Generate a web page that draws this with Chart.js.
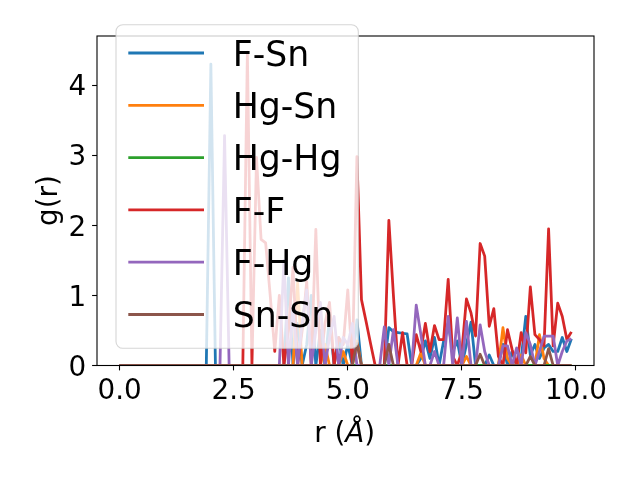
<!DOCTYPE html>
<html>
<head>
<meta charset="utf-8">
<script src="https://cdn.jsdelivr.net/npm/chart.js@4/dist/chart.umd.min.js"></script>
<style>
  html, body { margin: 0; padding: 0; background: #fff; }
  canvas { display: block; }
</style>
</head>
<body>
<canvas id="c" width="640" height="480"></canvas>
<script>
// ---- data ----
const rValues = [
  0.0,0.1,0.2,0.3,0.4,0.5,0.6,0.7,0.8,0.9,
  1.0,1.1,1.2,1.3,1.4,1.5,1.6,1.7,1.8,1.9,
  2.0,2.1,2.2,2.3,2.4,2.5,2.6,2.7,2.8,2.9,
  3.0,3.1,3.2,3.3,3.4,3.5,3.6,3.7,3.8,3.9,
  4.0,4.1,4.2,4.3,4.4,4.5,4.6,4.7,4.8,4.9,
  5.0,5.1,5.2,5.3,5.4,5.5,5.6,5.7,5.8,5.9,
  6.0,6.1,6.2,6.3,6.4,6.5,6.6,6.7,6.8,6.9,
  7.0,7.1,7.2,7.3,7.4,7.5,7.6,7.7,7.8,7.9,
  8.0,8.1,8.2,8.3,8.4,8.5,8.6,8.7,8.8,8.9,
  9.0,9.1,9.2,9.3,9.4,9.5,9.6,9.7,9.8,9.9
];
const seriesLabels = ['F-Sn','Hg-Sn','Hg-Hg','F-F','F-Hg','Sn-Sn'];
const seriesColors = ['#1f77b4','#ff7f0e','#2ca02c','#d62728','#9467bd','#8c564b'];

const gFSn = [
  0,0,0,0,0,0,0,0,0,0,
  0,0,0,0,0,0,0,0,0,0,
  4.3,0,0,0,0,0,0,0,0,0,
  0,0,0,0,0,0,0,1.25,0,0.6,
  0,0.3,1.0,0,0.5,0,0.7,0,0.4,0,
  0.3,0,0.65,0,0,0,0,0,0,0.54,
  0.48,0.47,0.46,0.45,0,0,0.1,0.35,0.1,0.4,
  0,0.35,0.6,0.2,0.35,0,0.3,0.62,0,0,
  0,0.15,0,0,0.3,0,0.2,0,0.1,0.7,
  0.15,0.3,0.1,0.25,0.3,0.2,0.2,0.4,0.2,0.38
];
const gHgSn = [
  0,0,0,0,0,0,0,0,0,0,
  0,0,0,0,0,0,0,0,0,0,
  0,0,0,0,0,0,0,0,0,0,
  0,0,0,0,0,0,0,0,0,1.18,
  0,0,0,0,0,0.3,0,0,0,0.2,
  0,0,0.35,0,0,0,0,0,0,0,
  0,0,0,0,0,0,0.18,0,0,0,
  0,0,0,0,0,0,0.13,0,0,0,
  0,0,0,0,0.54,0.1,0,0,0.15,0,
  0,0,0.44,0.1,0,0,0,0,0,0
];
const gHgHg = [
  0,0,0,0,0,0,0,0,0,0,
  0,0,0,0,0,0,0,0,0,0,
  0,0,0,0,0,0,0,0,0,0,
  0,0,0,0,0,0,0,0,0,0,
  0,0,0,0,0,0,0,0,0,0,
  0,0,0,0,0,0,0,0,0,0,
  0,0,0,0,0,0,0,0,0,0,
  0,0,0,0,0,0,0,0,0,0,
  0,0,0,0,0,0,0,0,0,0,
  0,0,0,0,0,0,0,0,0,0
];
const gFF = [
  0,0,0,0,0,0,0,0,0,0,
  0,0,0,0,0,0,0,0,0,0,
  0,0,0,0,0,0,0,0,4.47,0,
  2.97,1.8,1.75,1.0,0.2,1.0,0,0.5,1.4,0,
  0.5,1.2,0,1.94,0,0.6,0.9,0,0.4,0.3,
  1.08,0,2.98,0.94,0.63,0.31,0,0,0,2.07,
  1.0,0,0.47,0,0,0.44,0.2,0.6,0.2,0.57,
  0.37,0.37,1.23,0.13,0,0.2,0.95,0.75,0.42,1.74,
  1.56,0.56,0.81,0.13,0,0.51,0.23,0,0.47,0.18,
  1.12,0.44,0.37,0.28,1.95,0.28,0.89,0.7,0.37,0.48
];
const gFHg = [
  0,0,0,0,0,0,0,0,0,0,
  0,0,0,0,0,0,0,0,0,0,
  0,0,0,3.28,0,0,0,0,0,0,
  0,0,0,0,0,0,1.5,0,0.8,0,
  0.6,1.08,0,0.5,0.9,0,0.4,0.7,0,0.4,
  0.3,0.6,0,0,0,0,0,0,0.55,0,
  0.51,0,0,0,0,0.86,0.45,0,0,0.2,
  0,0,0.7,0,0.68,0,0.63,0,0,0.58,
  0.2,0,0,0,0.28,0.28,0,0.25,0,0.47,
  0.3,0,0.2,0.42,0.42,0.42,0,0.2,0.35,0.38
];
const gSnSn = [
  0,0,0,0,0,0,0,0,0,0,
  0,0,0,0,0,0,0,0,0,0,
  0,0,0,0,0,0,0,0,0,0,
  0,0,0,0,0,0,0,0,0,0,
  0,0,0,0,0,0,0,0,0,0,
  0,0,0.32,0,0,0,0,0,0,0.3,
  0,0,0,0,0,0,0,0,0,0,
  0,0,0,0,0,0,0,0,0,0.16,
  0,0,0,0,0,0,0,0,0,0,
  0.13,0,0,0,0.24,0,0,0,0,0
];
const seriesValues = [gFSn, gHgSn, gHgHg, gFF, gFHg, gSnSn];
const xTickValues = [0, 2.5, 5.0, 7.5, 10.0];
const yTickValues = [0, 1, 2, 3, 4];

// ---- chart ----
const FONT = 'DejaVu Sans';
const tickFont = { family: FONT, size: 27.8 };

const overlayPlugin = {
  id: 'overlay',
  afterDatasetsDraw(chart) {
    const { ctx, chartArea: a } = chart;
    ctx.save();
    // spines
    ctx.strokeStyle = '#000';
    ctx.lineWidth = 1.1;
    ctx.strokeRect(a.left, a.top, a.right - a.left, a.bottom - a.top);

    // legend frame
    const bx = 116, by = 24.7, bw = 242.3, bh = 323.6, rad = 6.9;
    ctx.beginPath();
    ctx.moveTo(bx + rad, by);
    ctx.lineTo(bx + bw - rad, by);
    ctx.arcTo(bx + bw, by, bx + bw, by + rad, rad);
    ctx.lineTo(bx + bw, by + bh - rad);
    ctx.arcTo(bx + bw, by + bh, bx + bw - rad, by + bh, rad);
    ctx.lineTo(bx + rad, by + bh);
    ctx.arcTo(bx, by + bh, bx, by + bh - rad, rad);
    ctx.lineTo(bx, by + rad);
    ctx.arcTo(bx, by, bx + rad, by, rad);
    ctx.closePath();
    ctx.fillStyle = 'rgba(255,255,255,0.8)';
    ctx.fill();
    ctx.strokeStyle = 'rgba(204,204,204,0.8)';
    ctx.lineWidth = 1.1;
    ctx.stroke();

    // legend entries
    ctx.font = '34.7px "' + FONT + '"';
    ctx.textAlign = 'left';
    ctx.textBaseline = 'alphabetic';
    chart.data.datasets.forEach((ds, i) => {
      const y = 53 + i * 52.3;
      ctx.strokeStyle = ds.borderColor;
      ctx.lineWidth = 2.78;
      ctx.lineCap = 'butt';
      ctx.beginPath();
      ctx.moveTo(128.3, y);
      ctx.lineTo(204, y);
      ctx.stroke();
      ctx.fillStyle = '#000';
      ctx.fillText(ds.label, 232.7, y + 12.65);
    });
    ctx.restore();
  },
  afterDraw(chart) {
    const { ctx } = chart;
    ctx.save();
    ctx.fillStyle = '#000';
    ctx.textBaseline = 'alphabetic';
    // y axis title
    ctx.font = '27.8px "' + FONT + '"';
    ctx.save();
    ctx.translate(57, 200.5);
    ctx.rotate(-Math.PI / 2);
    ctx.textAlign = 'center';
    ctx.fillText('g(r)', 0, 0);
    ctx.restore();
    // x axis title: r (Å) with italic Å
    const normal = '27.8px "' + FONT + '"';
    const italic = 'oblique 27.8px "' + FONT + '"';
    const parts = [['r (', normal], ['Å', italic], [')', normal]];
    let total = 0;
    parts.forEach(p => { ctx.font = p[1]; total += ctx.measureText(p[0]).width; });
    let x = 344.7 - total / 2;
    ctx.textAlign = 'left';
    parts.forEach(p => { ctx.font = p[1]; ctx.fillText(p[0], x, 441.7); x += ctx.measureText(p[0]).width; });
    ctx.restore();
  }
};

const datasets = seriesLabels.map((label, i) => ({
  label: label,
  data: rValues.map((r, j) => ({ x: r, y: seriesValues[i][j] })),
  borderColor: seriesColors[i],
  backgroundColor: seriesColors[i],
  borderWidth: 2.78,
  pointRadius: 0,
  pointHoverRadius: 0,
  tension: 0,
  fill: false,
  borderJoinStyle: 'round',
  order: seriesLabels.length - i
}));

new Chart(document.getElementById('c'), {
  type: 'line',
  data: { datasets: datasets },
  options: {
    responsive: false,
    animation: false,
    events: [],
    layout: { padding: { top: 36, right: 46, left: 0, bottom: 0 } },
    plugins: { legend: { display: false }, tooltip: { enabled: false } },
    scales: {
      x: {
        type: 'linear',
        min: -0.495,
        max: 10.395,
        afterBuildTicks: s => { s.ticks = xTickValues.map(v => ({ value: v })); },
        afterFit: s => { s.height = 114.5; s.paddingLeft = 0; s.paddingRight = 0; },
        ticks: {
          font: tickFont, color: '#000', padding: 5, maxRotation: 0, autoSkip: false,
          callback: v => Number(v).toFixed(1)
        },
        grid: { display: true, drawOnChartArea: false, drawTicks: true, tickLength: 4.9, tickWidth: 1.1, tickColor: '#000' },
        border: { display: false }
      },
      y: {
        type: 'linear',
        min: 0,
        max: 4.7,
        afterBuildTicks: s => { s.ticks = yTickValues.map(v => ({ value: v })); },
        afterFit: s => { s.width = 97; s.paddingTop = 0; s.paddingBottom = 0; },
        ticks: {
          font: tickFont, color: '#000', padding: 6, autoSkip: false, labelOffset: 3,
          callback: v => String(v)
        },
        grid: { display: true, drawOnChartArea: false, drawTicks: true, tickLength: 4.9, tickWidth: 1.1, tickColor: '#000' },
        border: { display: false }
      }
    }
  },
  plugins: [overlayPlugin]
});
</script>
</body>
</html>
